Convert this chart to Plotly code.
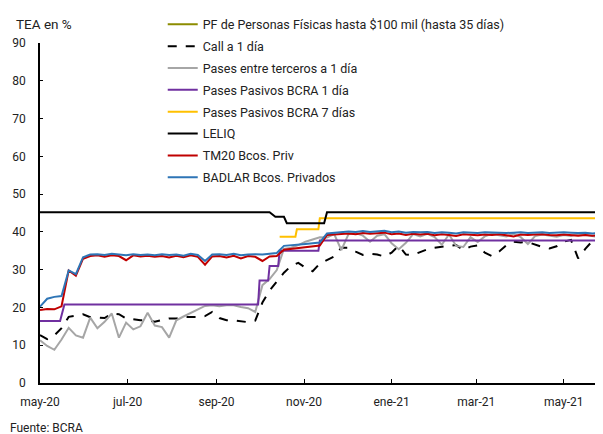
import pandas as pd
import plotly.graph_objects as go

# Noisy daily series, sampled every 5 days from 2020-05-01
fechas = pd.date_range("2020-05-01", periods=79, freq="5D")

badlar = [20.2, 22.3, 22.8, 23.0, 29.8, 28.8, 33.3, 34.0, 34.1, 33.9,
          34.2, 34.0, 33.8, 34.1, 33.9, 34.0, 33.8, 34.1, 33.9, 34.0,
          33.7, 34.2, 33.9, 32.3, 34.0, 34.1, 33.9, 34.2, 33.8, 34.0,
          34.1, 34.0, 34.2, 34.4, 36.3, 36.4, 36.6, 36.8, 37.0, 37.2,
          39.6, 39.7, 39.9, 40.1, 40.0, 40.2, 40.0, 40.1, 40.3, 39.9,
          40.1, 39.8, 40.0, 39.9, 40.0, 39.7, 39.9, 39.8, 39.6, 39.9,
          39.8, 39.7, 39.9, 39.8, 39.9, 39.7, 39.8, 39.9, 39.7, 39.8,
          39.9, 39.7, 39.8, 39.9, 39.8, 39.7, 39.8, 39.6, 39.7]

tm20 = [19.3, 19.6, 19.5, 20.3, 29.8, 28.4, 32.9, 33.6, 33.8, 33.4,
        33.8, 33.6, 32.5, 33.8, 33.5, 33.7, 33.4, 33.6, 33.2, 33.7,
        33.3, 33.8, 33.4, 31.3, 33.5, 33.6, 33.2, 33.7, 33.0, 33.6,
        33.4, 32.3, 33.5, 33.6, 35.3, 35.5, 35.8, 36.0, 36.2, 36.4,
        39.2, 39.3, 39.5, 39.6, 39.4, 39.7, 39.5, 39.6, 39.8, 39.4,
        39.6, 39.2, 39.5, 39.3, 39.5, 39.1, 39.4, 39.2, 38.9, 39.4,
        39.2, 39.1, 39.3, 39.2, 39.4, 39.1, 38.8, 39.3, 39.2, 39.3,
        39.4, 39.2, 39.1, 39.3, 39.2, 39.0, 39.2, 39.0, 39.1]

pases_terceros = [11.3, 9.8, 8.8, 11.5, 14.6, 12.6, 12.0, 17.3, 14.5, 16.2,
                  18.4, 12.0, 16.0, 14.2, 15.0, 18.6, 15.2, 14.8, 12.0, 16.6,
                  17.6, 18.6, 19.6, 20.4, 20.6, 20.3, 20.6, 20.6, 20.1, 19.8,
                  18.8, 25.9, 27.5, 29.9, 35.5, 35.8, 36.5, 37.4, 38.0, 38.6,
                  38.5, 39.4, 35.2, 39.4, 39.7, 39.0, 37.4, 39.0, 39.4, 37.0,
                  35.4, 37.1, 39.4, 38.8, 39.5, 38.6, 36.6, 39.3, 36.3, 36.0,
                  38.6, 37.3, 38.8, 39.5, 39.1, 38.8, 39.5, 38.6, 36.8, 38.9,
                  39.3, 39.0, 38.7, 39.2, 38.9, 39.5, 39.2, 38.7, 38.6]

call = [12.7, 11.6, 12.6, 14.5, 17.5, 17.8, 18.2, 17.4, 17.4, 17.2,
        18.4, 18.2, 17.1, 16.8, 16.6, 16.6, 16.2, 16.7, 17.1, 17.1,
        17.5, 17.5, 17.5, 17.7, 18.8, 17.2, 16.6, 16.6, 16.4, 16.1,
        16.5, 21.3, 24.5, 27.0, 29.2, 31.0, 31.8, 30.5, 29.6, 31.6,
        32.5, 33.5, 35.8, 35.8, 34.8, 33.9, 34.2, 34.0, 33.5, 34.5,
        36.4, 34.0, 33.9, 34.6, 35.4, 35.8, 36.1, 36.3, 36.5, 35.2,
        36.1, 36.4, 34.5, 33.6, 34.8, 36.5, 37.4, 37.2, 37.3, 36.6,
        36.0, 35.6, 36.2, 37.4, 37.9, 33.0, 35.5, 37.6, 38.5]

# Policy rates (step series)
pp1_fechas = ["2020-05-01", "2020-05-15", "2020-05-18", "2020-09-30", "2020-10-01",
              "2020-10-07", "2020-10-08", "2020-10-14", "2020-10-15", "2020-11-11",
              "2020-11-12", "2021-05-28"]
pp1 = [16.4, 16.4, 20.8, 20.8, 27.1, 27.1, 31.0, 31.0, 35.0, 35.0, 37.7, 37.7]

pp7_fechas = ["2020-10-15", "2020-10-26", "2020-10-27", "2020-11-11", "2020-11-12", "2021-05-28"]
pp7 = [38.7, 38.7, 40.7, 40.7, 43.6, 43.6]

leliq_fechas = ["2020-05-01", "2020-10-08", "2020-10-12", "2020-10-18", "2020-10-20",
                "2020-11-15", "2020-11-17", "2021-05-28"]
leliq = [45.2, 45.2, 44.0, 44.0, 42.3, 42.3, 45.2, 45.2]

# PF Personas Fisicas: no values visible in the chart (legend entry only)
pf_fechas = ["2020-05-01"]
pf = [None]

tick_fechas = ["2020-05-01", "2020-07-01", "2020-09-01", "2020-11-01",
               "2021-01-01", "2021-03-01", "2021-05-01"]
tick_textos = ["may-20", "jul-20", "sep-20", "nov-20", "ene-21", "mar-21", "may-21"]

fig = go.Figure()

series = [
    ("PF de Personas Físicas hasta $100 mil (hasta 35 días)", pf_fechas, pf, "#8c8c00", "solid", 2),
    ("Call a 1 día", fechas, call, "black", "dash", 2),
    ("Pases entre terceros a 1 día", fechas, pases_terceros, "#a6a6a6", "solid", 2),
    ("Pases Pasivos BCRA 1 día", pp1_fechas, pp1, "#7030a0", "solid", 2),
    ("Pases Pasivos BCRA 7 días", pp7_fechas, pp7, "#ffc000", "solid", 2),
    ("LELIQ", leliq_fechas, leliq, "black", "solid", 2),
    ("TM20 Bcos. Priv", fechas, tm20, "#c00000", "solid", 2),
    ("BADLAR Bcos. Privados", fechas, badlar, "#2e75b6", "solid", 2),
]

for i, (nombre, x, y, color, dash, ancho) in enumerate(series):
    fig.add_trace(go.Scatter(
        x=x, y=y, mode="lines", name=nombre, legendgroup=str(i),
        showlegend=True,
        line=dict(color=color, dash=dash, width=ancho)
    ))

# page body adds an 8px margin, so the figure is 8px smaller on each side
fig.update_layout(
    width=595, height=426,
    margin=dict(l=32, r=0, t=35, b=51, autoexpand=False),
    plot_bgcolor="white",
    paper_bgcolor="white",
    font=dict(family="Roboto", size=12, color="#222222"),
    showlegend=True,
    legend=dict(
        x=0.218, y=1.098, xanchor="left", yanchor="top",
        bgcolor="rgba(0,0,0,0)",
        traceorder="grouped", tracegroupgap=2.6,
        font=dict(size=12.5)
    ),
    xaxis=dict(
        type="date",
        range=["2020-05-01", "2021-05-28 08:00"],
        tickvals=tick_fechas, ticktext=tick_textos,
        ticks="inside", ticklen=4, tickcolor="black",
        ticklabelstandoff=7,
        showline=True, linecolor="black", linewidth=1.5,
        showgrid=False, zeroline=False
    ),
    yaxis=dict(
        range=[0, 90], dtick=10,
        ticks="inside", ticklen=3, tickcolor="black",
        ticklabelstandoff=10,
        showline=True, linecolor="black", linewidth=1.5,
        showgrid=False, zeroline=False
    ),
    annotations=[
        dict(text="TEA en %", xref="paper", yref="paper",
             x=-0.046, y=1.056, xanchor="left", yanchor="middle",
             showarrow=False, font=dict(size=13.5)),
        dict(text="Fuente: BCRA", xref="paper", yref="paper",
             x=-0.057, y=-0.132, xanchor="left", yanchor="middle",
             showarrow=False, font=dict(size=12)),
    ]
)

fig.write_html("out.html")
